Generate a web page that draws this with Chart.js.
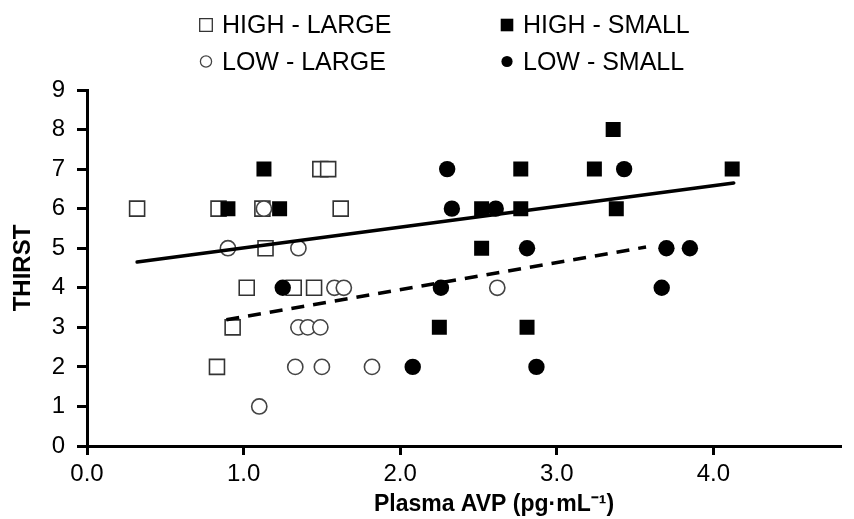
<!DOCTYPE html>
<html>
<head>
<meta charset="utf-8">
<script src="https://cdn.jsdelivr.net/npm/chart.js@4.4.1/dist/chart.umd.min.js"></script>
<style>
html,body{margin:0;padding:0;background:#fff;}
#wrap{width:854px;height:519px;position:relative;}
</style>
</head>
<body>
<div id="wrap"><canvas id="c" width="854" height="519"></canvas></div>
<script>
// ---- data ----
const seriesLabels = ['HIGH - LARGE', 'HIGH - SMALL', 'LOW - LARGE', 'LOW - SMALL'];

const highLargeX = [0.32, 0.84, 1.12, 1.62, 1.49, 1.54, 1.14, 1.02, 1.32, 1.45, 0.93, 0.83];
const highLargeY = [6, 6, 6, 6, 7, 7, 5, 4, 4, 4, 3, 2];

const highSmallX = [0.90, 1.13, 1.23, 2.52, 2.77, 3.38, 2.77, 3.24, 3.36, 4.12, 2.52, 2.25, 2.81];
const highSmallY = [6, 7, 6, 6, 6, 6, 7, 7, 8, 7, 5, 3, 3];

const lowLargeX = [1.13, 0.90, 1.35, 1.58, 1.64, 1.35, 1.41, 1.49, 1.33, 1.50, 1.82, 1.10, 2.62];
const lowLargeY = [6, 5, 5, 4, 4, 3, 3, 3, 2, 2, 2, 1, 4];

const lowSmallX = [1.25, 2.30, 3.43, 2.33, 2.61, 2.81, 3.70, 3.85, 2.26, 3.67, 2.08, 2.87];
const lowSmallY = [4, 7, 7, 6, 6, 5, 5, 5, 4, 4, 2, 2];

// regression lines (end points)
const fitHighX = [0.32, 4.13];
const fitHighY = [4.65, 6.65];
const fitLowX = [0.89, 3.57];
const fitLowY = [3.19, 5.03];

const xTickValues = [0, 1, 2, 3, 4];
const xTickLabels = ['0.0', '1.0', '2.0', '3.0', '4.0'];
const yTickValues = [0, 1, 2, 3, 4, 5, 6, 7, 8, 9];
const yTickLabels = ['0', '1', '2', '3', '4', '5', '6', '7', '8', '9'];

const xTitle = 'Plasma AVP (pg\u00B7mL\u207B\u00B9)';
const yTitle = 'THIRST';

// ---- build ----
function pts(xs, ys) { return xs.map((x, i) => ({ x: x, y: ys[i] })); }

const FONT = "'Liberation Sans', Arial, Helvetica, sans-serif";
Chart.defaults.font.family = FONT;
Chart.defaults.color = '#000';

const markerStyles = [
  { pointStyle: 'rect', radius: 10.6, bg: '#fff', border: '#333', bw: 1.6 },
  { pointStyle: 'rect', radius: 10.6, bg: '#000', border: '#000', bw: 0 },
  { pointStyle: 'circle', radius: 7.6, bg: '#fff', border: '#444', bw: 1.6 },
  { pointStyle: 'circle', radius: 8.2, bg: '#000', border: '#000', bw: 0 }
];

const seriesData = [pts(highLargeX, highLargeY), pts(highSmallX, highSmallY), pts(lowLargeX, lowLargeY), pts(lowSmallX, lowSmallY)];
const seriesOrder = [3, 1, 2, 1];

const datasets = seriesLabels.map((lab, i) => ({
  type: 'scatter',
  label: lab,
  data: seriesData[i],
  pointStyle: markerStyles[i].pointStyle,
  pointRadius: markerStyles[i].radius,
  pointBackgroundColor: markerStyles[i].bg,
  pointBorderColor: markerStyles[i].border,
  pointBorderWidth: markerStyles[i].bw,
  order: seriesOrder[i]
}));

datasets.push({
  type: 'line', label: 'fitHigh', data: pts(fitHighX, fitHighY),
  borderColor: '#000', borderWidth: 3.5, pointRadius: 0, fill: false, order: 0, borderCapStyle: 'round'
});
datasets.push({
  type: 'line', label: 'fitLow', data: pts(fitLowX, fitLowY),
  borderColor: '#000', borderWidth: 3.5, borderDash: [13, 9], pointRadius: 0, fill: false, order: 0
});

// 2x2 legend at the top and the x-axis title (centred where the reference has it)
const textPlugin = {
  id: 'gridLegend',
  afterDraw(chart) {
    const ctx = chart.ctx;
    const cols = [206, 507];
    const rows = [25, 61.5];
    const textOff = 16;
    ctx.save();
    ctx.font = "25px " + FONT;
    ctx.textBaseline = 'middle';
    ctx.textAlign = 'left';
    seriesLabels.forEach((lab, i) => {
      const cx = cols[i % 2];
      const cy = rows[Math.floor(i / 2)];
      const st = markerStyles[i];
      ctx.beginPath();
      if (st.pointStyle === 'rect') {
        const h = 6.3;
        ctx.rect(cx - h, cy - h, 2 * h, 2 * h);
      } else {
        ctx.arc(cx, cy, 5.6, 0, Math.PI * 2);
      }
      ctx.fillStyle = st.bg;
      ctx.fill();
      if (st.bw > 0) { ctx.lineWidth = 1.3; ctx.strokeStyle = st.border; ctx.stroke(); }
      ctx.fillStyle = '#000';
      ctx.fillText(lab, cx + textOff, cy + 1.5);
    });
    // x-axis title
    ctx.font = "bold 23px " + FONT;
    ctx.textAlign = 'center';
    ctx.textBaseline = 'middle';
    ctx.fillStyle = '#000';
    ctx.fillText(xTitle, 494, 505);
    ctx.restore();
  }
};

new Chart(document.getElementById('c'), {
  type: 'scatter',
  data: { datasets: datasets },
  options: {
    responsive: false,
    animation: false,
    layout: { padding: { top: 90, left: 0, right: 0, bottom: 0 } },
    plugins: { legend: { display: false }, tooltip: { enabled: false } },
    scales: {
      x: {
        type: 'linear', min: 0, max: 4.82,
        afterBuildTicks: s => { s.ticks = xTickValues.map(v => ({ value: v })); },
        afterFit: s => { s.height = 73; },
        ticks: {
          callback: (v) => xTickLabels[xTickValues.indexOf(v)],
          font: { size: 24 }, color: '#000', padding: 5, maxRotation: 0, autoSkip: false
        },
        grid: { drawOnChartArea: false, drawTicks: true, tickLength: 9, tickWidth: 3, tickColor: '#000' },
        border: { display: true, color: '#000', width: 3 },
        title: { display: false, text: xTitle }
      },
      y: {
        type: 'linear', min: 0, max: 9,
        afterBuildTicks: s => { s.ticks = yTickValues.map(v => ({ value: v })); },
        afterFit: s => { s.width = 87; },
        ticks: {
          callback: (v) => yTickLabels[yTickValues.indexOf(v)],
          font: { size: 24 }, color: '#000', padding: 12
        },
        grid: { drawOnChartArea: false, drawTicks: true, tickLength: 10, tickWidth: 3, tickColor: '#000' },
        border: { display: true, color: '#000', width: 3 },
        title: { display: true, text: yTitle, font: { size: 24, weight: 'bold' }, color: '#000', padding: { top: 9, bottom: 0 } }
      }
    }
  },
  plugins: [textPlugin]
});
</script>
</body>
</html>
